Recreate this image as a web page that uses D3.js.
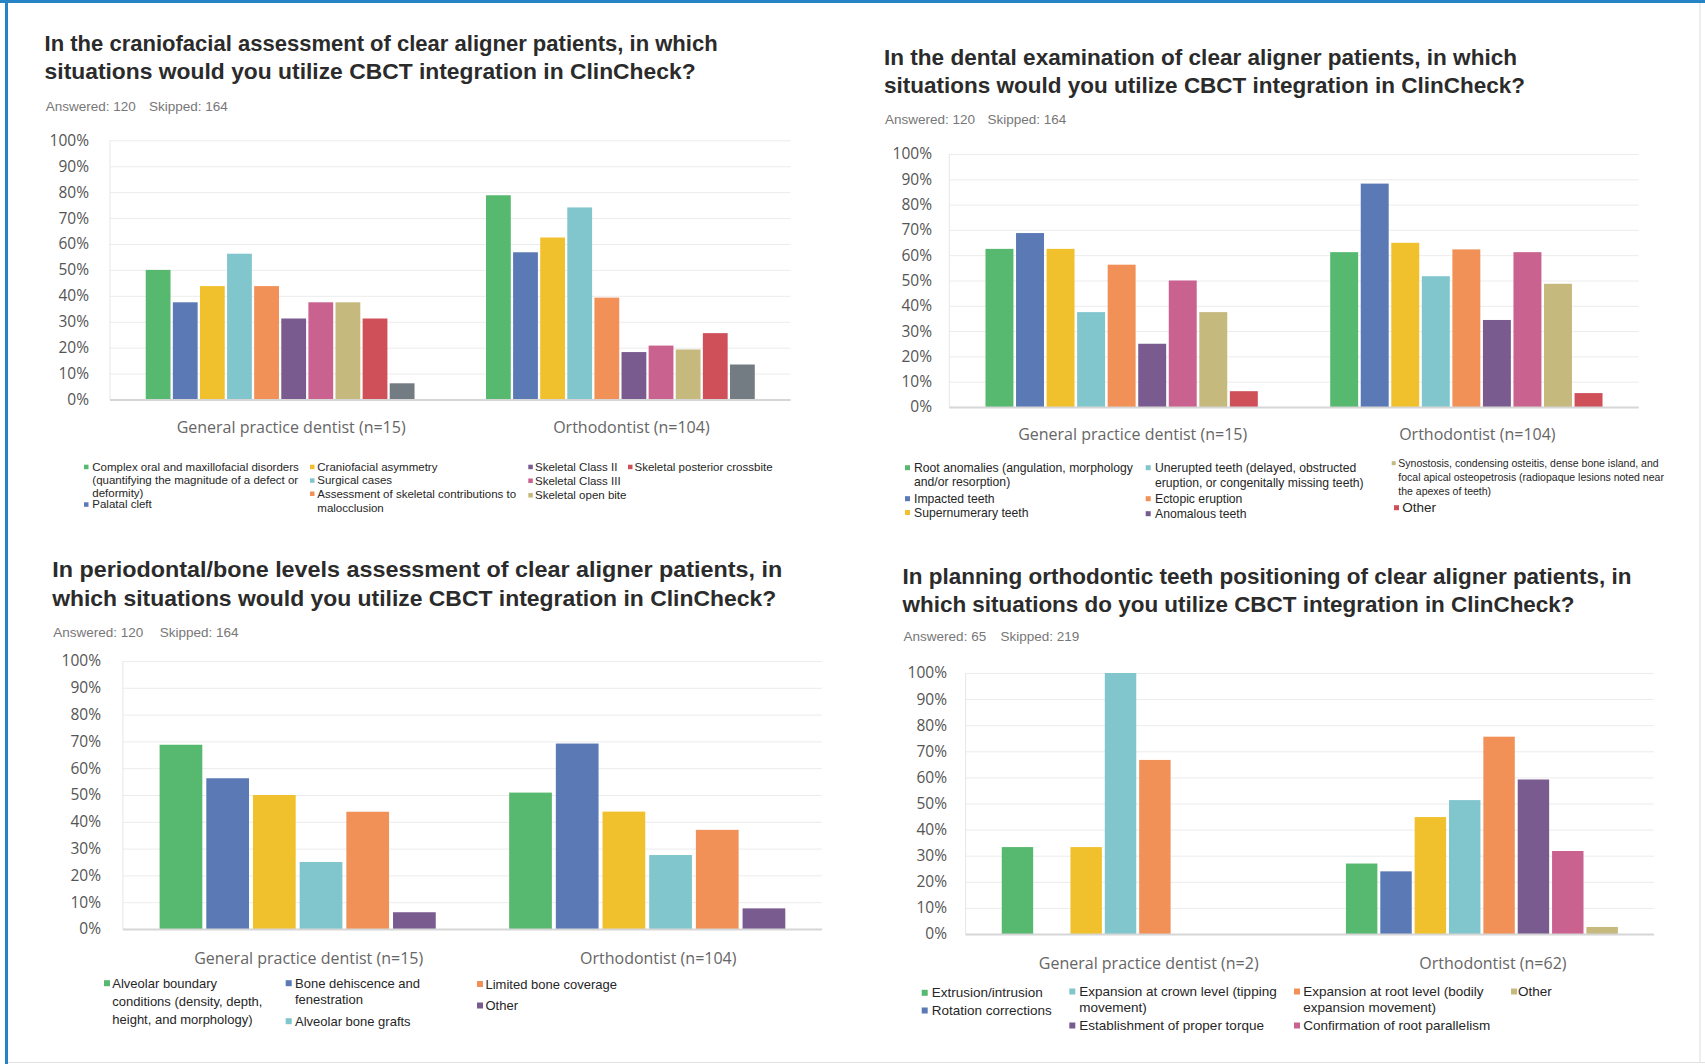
<!DOCTYPE html>
<html><head><meta charset="utf-8">
<script src="https://cdn.jsdelivr.net/npm/d3@7"></script>
<style>html,body{margin:0;padding:0;background:#fff;} svg{display:block;}</style>
</head><body><svg id="chart" width="1705" height="1064"></svg>
<script>
// ---------------- DATA ----------------
const yTickValues = [0, 10, 20, 30, 40, 50, 60, 70, 80, 90, 100];
const groupsA = ["General practice dentist (n=15)", "Orthodontist (n=104)"];
const groupsB = ["General practice dentist (n=2)", "Orthodontist (n=62)"];
const palette = ["#57b96f", "#5b79b4", "#f0c12d", "#80c6cc", "#f19157", "#7a5b8f", "#c9628f", "#c5b97d", "#d0505a", "#737b83"];

// Panel 1: craniofacial
const title1 = ["In the craniofacial assessment of clear aligner patients, in which", "situations would you utilize CBCT integration in ClinCheck?"];
const answered1 = ["Answered: 120", "Skipped: 164"];
const series1 = [
  ["Complex oral and maxillofacial disorders", "(quantifying the magnitude of a defect or", "deformity)"],
  ["Palatal cleft"],
  ["Craniofacial asymmetry"],
  ["Surgical cases"],
  ["Assessment of skeletal contributions to", "malocclusion"],
  ["Skeletal Class II"],
  ["Skeletal Class III"],
  ["Skeletal open bite"],
  ["Skeletal posterior crossbite"],
  null
];
const gp1 = [50, 37.5, 43.75, 56.25, 43.75, 31.25, 37.5, 37.5, 31.25, 6.25];
const ortho1 = [78.8, 56.8, 62.5, 74.1, 39.3, 18.3, 20.8, 19.3, 25.6, 13.5];

// Panel 2: dental examination
const title2 = ["In the dental examination of clear aligner patients, in which", "situations would you utilize CBCT integration in ClinCheck?"];
const answered2 = ["Answered: 120", "Skipped: 164"];
const series2 = [
  ["Root anomalies (angulation, morphology", "and/or resorption)"],
  ["Impacted teeth"],
  ["Supernumerary teeth"],
  ["Unerupted teeth (delayed, obstructed", "eruption, or congenitally missing teeth)"],
  ["Ectopic eruption"],
  ["Anomalous teeth"],
  null,
  ["Synostosis, condensing osteitis, dense bone island, and", "focal apical osteopetrosis (radiopaque lesions noted near", "the apexes of teeth)"],
  ["Other"]
];
const gp2 = [62.5, 68.75, 62.5, 37.5, 56.25, 25, 50, 37.5, 6.25];
const ortho2 = [61.2, 88.3, 64.9, 51.7, 62.3, 34.4, 61.2, 48.7, 5.5];

// Panel 3: periodontal / bone levels
const title3 = ["In periodontal/bone levels assessment of clear aligner patients, in", "which situations would you utilize CBCT integration in ClinCheck?"];
const answered3 = ["Answered: 120", "Skipped: 164"];
const series3 = [
  ["Alveolar boundary", "conditions (density, depth,", "height, and morphology)"],
  ["Bone dehiscence and", "fenestration"],
  null,
  ["Alveolar bone grafts"],
  ["Limited bone coverage"],
  ["Other"]
];
const gp3 = [68.75, 56.25, 50, 25, 43.75, 6.25];
const ortho3 = [50.9, 69.2, 43.8, 27.6, 37.0, 7.7];

// Panel 4: teeth positioning
const title4 = ["In planning orthodontic teeth positioning of clear aligner patients, in", "which situations do you utilize CBCT integration in ClinCheck?"];
const answered4 = ["Answered: 65", "Skipped: 219"];
const series4 = [
  ["Extrusion/intrusion"],
  ["Rotation corrections"],
  null,
  ["Expansion at crown level (tipping", "movement)"],
  ["Expansion at root level (bodily", "expansion movement)"],
  ["Establishment of proper torque"],
  ["Confirmation of root parallelism"],
  ["Other"]
];
const gp4 = [33.3, 0, 33.3, 100, 66.7, 0, 0, 0];
const ortho4 = [27.0, 24.0, 44.8, 51.3, 75.6, 59.2, 31.8, 2.7];

// ---------------- LAYOUT ----------------
const panels = [
  { title: title1, answered: answered1, series: series1, groups: groupsA, values: [gp1, ortho1],
    tx: 44.6, ty: [51, 79], tw: [673, 651], ax: [45.7, 149], ay: 111,
    left: 110, right: 790.5, top: 140.3, bottom: 399.5, labelRight: 89, catY: 433,
    lf: 11.5, sq: 4.5,
    legend: [
      { i: 0, sx: 84, tx: 92.3, y: 470.7, lh: 13 },
      { i: 1, sx: 84, tx: 92.3, y: 508.3 },
      { i: 2, sx: 310, tx: 317.3, y: 470.7 },
      { i: 3, sx: 310, tx: 317.3, y: 484.3 },
      { i: 4, sx: 310, tx: 317.3, y: 497.5, lh: 14 },
      { i: 5, sx: 528.3, tx: 535, y: 470.7 },
      { i: 6, sx: 528.3, tx: 535, y: 484.5 },
      { i: 7, sx: 528.3, tx: 535, y: 499 },
      { i: 8, sx: 628, tx: 634.5, y: 470.7 }
    ] },
  { title: title2, answered: answered2, series: series2, groups: groupsA, values: [gp2, ortho2],
    tx: 884, ty: [65, 93], tw: [633, 641], ax: [885, 987.5], ay: 124,
    left: 949.3, right: 1638.7, top: 154, bottom: 407, labelRight: 932, catY: 440,
    lf: 12.2, sq: 5,
    legend: [
      { i: 0, sx: 905, tx: 914, y: 471.7, lh: 14.5 },
      { i: 1, sx: 905, tx: 914, y: 502.7 },
      { i: 2, sx: 905, tx: 914, y: 516.5 },
      { i: 3, sx: 1145.7, tx: 1155, y: 471.7, lh: 15 },
      { i: 4, sx: 1145.7, tx: 1155, y: 502.7 },
      { i: 5, sx: 1145.7, tx: 1155, y: 517.7 },
      { i: 7, sx: 1391.7, tx: 1398.3, y: 466.7, lh: 14.2, f: 10.5, s: 4 },
      { i: 8, sx: 1394, tx: 1402.3, y: 511.7, f: 13.5 }
    ] },
  { title: title3, answered: answered3, series: series3, groups: groupsA, values: [gp3, ortho3],
    tx: 52.2, ty: [577, 606], tw: [730, 724], ax: [53.3, 159.8], ay: 637,
    left: 122.9, right: 822, top: 661, bottom: 929, labelRight: 101, catY: 964,
    lf: 13, sq: 6,
    legend: [
      { i: 0, sx: 104, tx: 112.3, y: 987.7, lh: 18.2 },
      { i: 1, sx: 285.7, tx: 295, y: 987.7, lh: 16.5 },
      { i: 3, sx: 285.7, tx: 295, y: 1025.7 },
      { i: 4, sx: 477, tx: 485.5, y: 988.5 },
      { i: 5, sx: 477, tx: 485.5, y: 1010 }
    ] },
  { title: title4, answered: answered4, series: series4, groups: groupsB, values: [gp4, ortho4],
    tx: 902.5, ty: [584, 612], tw: [729, 672], ax: [903.6, 1000.5], ay: 641,
    left: 965.6, right: 1654, top: 673, bottom: 934, labelRight: 947, catY: 968.5,
    lf: 13.5, sq: 6,
    legend: [
      { i: 0, sx: 921.7, tx: 931.7, y: 997.3 },
      { i: 1, sx: 921.7, tx: 931.7, y: 1015 },
      { i: 3, sx: 1069.3, tx: 1079.3, y: 996, lh: 15.7 },
      { i: 5, sx: 1069.3, tx: 1079.3, y: 1030 },
      { i: 4, sx: 1294, tx: 1303.3, y: 996, lh: 15.7 },
      { i: 6, sx: 1294, tx: 1303.3, y: 1030 },
      { i: 7, sx: 1511, tx: 1518, y: 996 }
    ] }
];

const svg = d3.select("#chart");
svg.append("rect").attr("x", 0).attr("y", 0).attr("width", 1705).attr("height", 1064).attr("fill", "#fff");

// frame
svg.append("line").attr("x1", 1700).attr("x2", 1700).attr("y1", 3).attr("y2", 1063).attr("stroke", "#dcdcdc").attr("stroke-width", 1);
svg.append("line").attr("x1", 6).attr("x2", 1705).attr("y1", 1062.5).attr("y2", 1062.5).attr("stroke", "#e2e2e2").attr("stroke-width", 1);
svg.append("rect").attr("x", 0).attr("y", 0).attr("width", 1705).attr("height", 3).attr("fill", "#2683c6");
svg.append("rect").attr("x", 5).attr("y", 0).attr("width", 3).attr("height", 1064).attr("fill", "#2683c6");

function drawPanel(p) {
  const g = svg.append("g");
  const y = d3.scaleLinear().domain([0, 100]).range([p.bottom, p.top]);
  const x0 = d3.scaleBand().domain(p.groups).range([p.left, p.right]).paddingInner(0.21).paddingOuter(0.105);
  const n = p.series.length;
  const x1 = d3.scaleBand().domain(d3.range(n)).range([0, x0.bandwidth()]).paddingInner(0.085);

  // title
  p.title.forEach((t, k) => {
    g.append("text").attr("x", p.tx).attr("y", p.ty[k]).text(t)
      .attr("font-family", "'Liberation Sans', Arial, sans-serif").attr("font-weight", "bold")
      .attr("font-size", 22).attr("fill", "#2b2b2b")
      .attr("textLength", p.tw[k]).attr("lengthAdjust", "spacingAndGlyphs");
  });
  // answered / skipped
  p.answered.forEach((t, k) => {
    g.append("text").attr("x", p.ax[k]).attr("y", p.ay).text(t)
      .attr("font-family", "'Liberation Sans', Arial, sans-serif").attr("font-size", 13.5)
      .attr("fill", "#777");
  });

  // gridlines + y labels
  const yAxis = d3.axisLeft(y).tickValues(yTickValues).tickFormat(d => d + "%")
    .tickSize(-(p.right - p.left)).tickPadding(p.left - p.labelRight);
  const ga = g.append("g").attr("transform", `translate(${p.left},0)`).call(yAxis);
  ga.select(".domain").remove();
  ga.selectAll(".tick line").attr("stroke", "#ececec").attr("stroke-width", 1);
  ga.selectAll(".tick text").attr("font-family", "'Open Sans', 'Noto Sans', sans-serif")
    .attr("font-size", 15.5).attr("fill", "#555");
  // left vertical line
  g.append("line").attr("x1", p.left).attr("x2", p.left).attr("y1", y(100)).attr("y2", y(0))
    .attr("stroke", "#e6e6e6").attr("stroke-width", 1);

  // bars
  p.groups.forEach((grp, gi) => {
    g.append("g").attr("transform", `translate(${x0(grp)},0)`)
      .selectAll("rect").data(p.values[gi]).join("rect")
      .attr("x", (d, i) => x1(i)).attr("width", x1.bandwidth())
      .attr("y", d => y(d)).attr("height", d => y(0) - y(d))
      .attr("fill", (d, i) => palette[i]);
  });
  // baseline
  g.append("line").attr("x1", p.left).attr("x2", p.right).attr("y1", y(0) + 0.5).attr("y2", y(0) + 0.5)
    .attr("stroke", "#d6d6d6").attr("stroke-width", 2);

  // category labels
  const xAxis = d3.axisBottom(x0).tickSize(0).tickPadding(0);
  const gx = g.append("g").attr("transform", `translate(0,${p.catY})`).call(xAxis);
  gx.select(".domain").remove();
  gx.selectAll(".tick text").attr("dy", 0).attr("y", 0).attr("dx", 11)
    .attr("font-family", "'Open Sans', 'Noto Sans', sans-serif").attr("font-size", 16)
    .attr("fill", "#666");

  // legend
  p.legend.forEach(it => {
    const lines = p.series[it.i];
    if (!lines) return;
    const fs = it.f || p.lf;
    const sq = it.s || p.sq;
    const lh = it.lh || fs * 1.2;
    g.append("rect").attr("x", it.sx).attr("y", it.y - 1.5 - sq).attr("width", sq).attr("height", sq)
      .attr("fill", palette[it.i]);
    const t = g.append("text").attr("font-family", "'Liberation Sans', Arial, sans-serif")
      .attr("font-size", fs).attr("fill", "#262626");
    lines.forEach((ln, k) => {
      t.append("tspan").attr("x", it.tx).attr("y", it.y + k * lh).text(ln);
    });
  });
}

panels.forEach(drawPanel);
</script>
</body></html>
